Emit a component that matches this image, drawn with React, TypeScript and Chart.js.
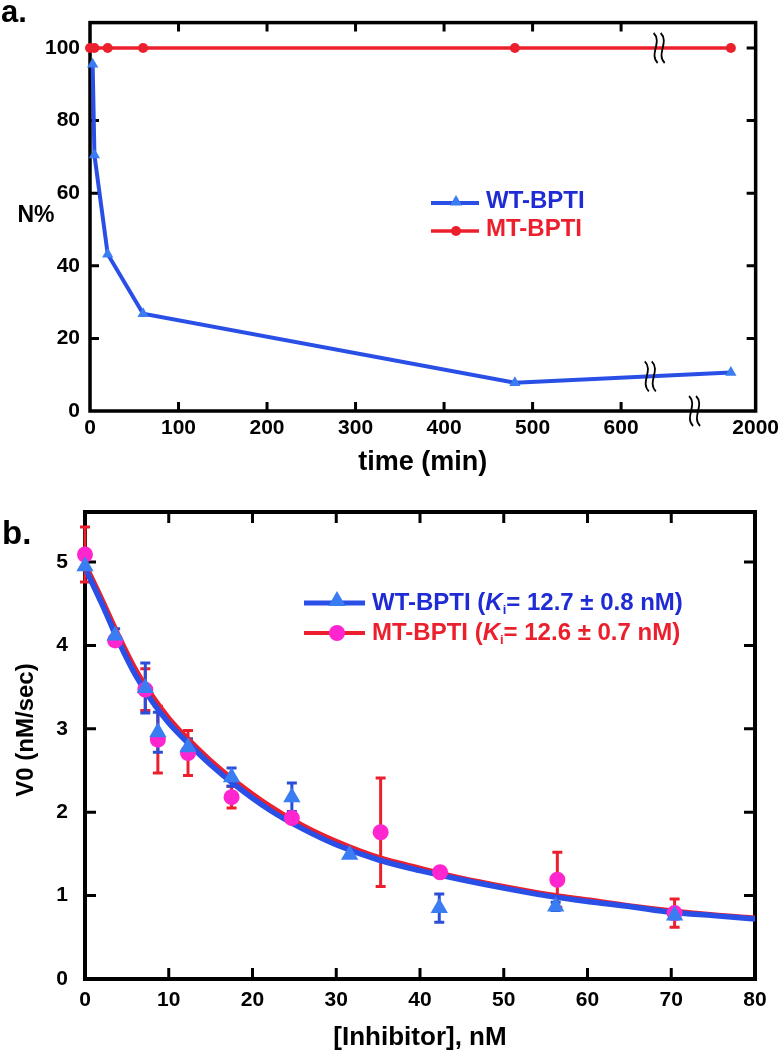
import React, { useEffect, useRef } from "react";
import { Chart, registerables } from "chart.js";

Chart.register(...registerables);

const FONT = "'Liberation Sans', Arial, Helvetica, sans-serif";

// ---------- Panel a data ----------
const timeWT = [3, 5, 20, 60, 480, 724];
const nWT = [95.5, 70.5, 43.2, 26.8, 7.8, 10.6];
const timeMT = [0, 5, 20, 60, 480, 724];
const nMT = [100, 100, 100, 100, 100, 100];
const aXTicks = [0, 100, 200, 300, 400, 500, 600];
const aXEnd = 752; // broken axis end
const aXEndLabel = "2000";
const aYTicks = [0, 20, 40, 60, 80, 100];
const aYMax = 107;
const aBreaks = [
  { x: 643, y: 100 },
  { x: 633, y: 9.56 },
  { x: 683, y: 0 },
];

// ---------- Panel b data ----------
const inhibWT = [0, 3.6, 7.2, 8.7, 12.3, 17.5, 24.7, 31.6, 42.3, 56.2, 70.4];
const v0WT = [4.95, 4.12, 3.49, 2.96, 2.78, 2.42, 2.18, 1.49, 0.85, 0.87, 0.76];
const errWT = [0, 0.08, 0.3, 0.24, 0.1, 0.11, 0.17, 0, 0.17, 0.05, 0.04];
const inhibMT = [0, 3.6, 7.2, 8.7, 12.3, 17.5, 24.7, 35.3, 42.4, 56.4, 70.4];
const v0MT = [5.09, 4.06, 3.47, 2.87, 2.71, 2.18, 1.93, 1.76, 1.28, 1.19, 0.79];
const errMT = [0.33, 0.06, 0.25, 0.4, 0.27, 0.13, 0.05, 0.65, 0, 0.33, 0.17];
const fitX = [0, 2, 4, 6, 8, 10, 12, 15, 18, 22, 26, 30, 35, 40, 45, 50, 55, 60, 65, 70, 75, 80];
const fitWT = [4.93, 4.5, 4.05, 3.65, 3.33, 3.07, 2.86, 2.57, 2.32, 2.03, 1.8, 1.61, 1.43, 1.3, 1.19, 1.09, 1.0, 0.93, 0.87, 0.8, 0.76, 0.72];
const fitMT = [4.98, 4.56, 4.12, 3.72, 3.4, 3.13, 2.91, 2.62, 2.37, 2.08, 1.84, 1.65, 1.46, 1.33, 1.21, 1.11, 1.02, 0.95, 0.88, 0.82, 0.77, 0.73];
const bXTicks = [0, 10, 20, 30, 40, 50, 60, 70, 80];
const bYTicks = [0, 1, 2, 3, 4, 5];
const bYMax = 5.6;

// ---------- colours ----------
const BLUE_LINE = "#2a4fe6";
const BLUE_MARK = "#3a7cf2";
const BLUE_TEXT = "#1f2bd4";
const BLUE_ERR = "#2b4ed8";
const RED = "#ec1f2d";
const MAGENTA = "#ff26cf";

const xy = (xs: number[], ys: number[]) => xs.map((x, i) => ({ x, y: ys[i] }));

function frameTicks(cfg: { xMarks: number[]; yMarks: number[]; len: number; frameWidth: number; tickWidth: number }) {
  return {
    id: "frameTicks",
    beforeDatasetsDraw(chart: any) {
      const { ctx, chartArea: a, scales } = chart;
      const xs = scales.x;
      const ys = scales.y;
      ctx.save();
      ctx.strokeStyle = "#000";
      ctx.lineWidth = cfg.tickWidth;
      ctx.beginPath();
      for (const v of cfg.xMarks) {
        const p = xs.getPixelForValue(v);
        ctx.moveTo(p, a.bottom);
        ctx.lineTo(p, a.bottom - cfg.len);
        ctx.moveTo(p, a.top);
        ctx.lineTo(p, a.top + cfg.len);
      }
      for (const v of cfg.yMarks) {
        const p = ys.getPixelForValue(v);
        ctx.moveTo(a.left, p);
        ctx.lineTo(a.left + cfg.len, p);
        ctx.moveTo(a.right, p);
        ctx.lineTo(a.right - cfg.len, p);
      }
      ctx.stroke();
      ctx.lineWidth = cfg.frameWidth;
      ctx.lineJoin = "miter";
      ctx.strokeRect(a.left, a.top, a.right - a.left, a.bottom - a.top);
      ctx.restore();
    },
  };
}

function drawTriangle(ctx: CanvasRenderingContext2D, x: number, y: number, r: number, color: string) {
  ctx.beginPath();
  ctx.moveTo(x, y - r);
  ctx.lineTo(x + 0.866 * r, y + 0.5 * r);
  ctx.lineTo(x - 0.866 * r, y + 0.5 * r);
  ctx.closePath();
  ctx.fillStyle = color;
  ctx.fill();
}
function drawCircle(ctx: CanvasRenderingContext2D, x: number, y: number, r: number, color: string) {
  ctx.beginPath();
  ctx.arc(x, y, r, 0, Math.PI * 2);
  ctx.fillStyle = color;
  ctx.fill();
}

function drawBreak(ctx: CanvasRenderingContext2D, cx: number, cy: number) {
  ctx.save();
  ctx.strokeStyle = "#000";
  ctx.lineWidth = 1.8;
  for (const dx of [-3.5, 3.5]) {
    const x = cx + dx;
    ctx.beginPath();
    ctx.moveTo(x - 2, cy - 15);
    ctx.bezierCurveTo(x + 7, cy - 6, x - 7, cy + 6, x + 2, cy + 15);
    ctx.stroke();
  }
  ctx.restore();
}

function boldFont(size: number) {
  return `bold ${size}px ${FONT}`;
}

const panelAPlugin = {
  id: "panelA",
  afterDraw(chart: any) {
    const { ctx, scales } = chart;
    ctx.save();
    // panel letter
    ctx.fillStyle = "#000";
    ctx.font = boldFont(31);
    ctx.textBaseline = "alphabetic";
    ctx.textAlign = "left";
    ctx.fillText("a.", 1, 22);
    // y title
    ctx.font = boldFont(23);
    ctx.textAlign = "center";
    ctx.textBaseline = "middle";
    ctx.fillText("N%", 36, 216);
    // breaks
    for (const b of aBreaks) {
      drawBreak(ctx, scales.x.getPixelForValue(b.x), scales.y.getPixelForValue(b.y));
    }
    // legend
    const items = [
      { label: "WT-BPTI", line: BLUE_LINE, lw: 4, mark: "tri", mc: BLUE_MARK, tc: BLUE_TEXT, y: 203 },
      { label: "MT-BPTI", line: RED, lw: 3.5, mark: "cir", mc: RED, tc: RED, y: 231 },
    ];
    for (const it of items) {
      ctx.strokeStyle = it.line;
      ctx.lineWidth = it.lw;
      ctx.beginPath();
      ctx.moveTo(431, it.y);
      ctx.lineTo(479, it.y);
      ctx.stroke();
      if (it.mark === "tri") drawTriangle(ctx, 456, it.y - 1, 7, it.mc);
      else drawCircle(ctx, 456, it.y, 5, it.mc);
      ctx.fillStyle = it.tc;
      ctx.font = boldFont(24);
      ctx.textAlign = "left";
      ctx.textBaseline = "alphabetic";
      ctx.fillText(it.label, 486, it.y + 5);
    }
    ctx.restore();
  },
};

const errorBarPlugin = {
  id: "errBars",
  beforeDatasetsDraw(chart: any) {
    const { ctx, scales } = chart;
    const sets = [
      { xs: inhibMT, ys: v0MT, es: errMT, color: RED },
      { xs: inhibWT, ys: v0WT, es: errWT, color: BLUE_ERR },
    ];
    ctx.save();
    ctx.lineWidth = 3;
    for (const s of sets) {
      ctx.strokeStyle = s.color;
      s.xs.forEach((xv, i) => {
        const e = s.es[i];
        if (!e) return;
        const px = scales.x.getPixelForValue(xv);
        const top = scales.y.getPixelForValue(s.ys[i] + e);
        const bot = scales.y.getPixelForValue(s.ys[i] - e);
        ctx.beginPath();
        ctx.moveTo(px, top);
        ctx.lineTo(px, bot);
        ctx.moveTo(px - 5, top);
        ctx.lineTo(px + 5, top);
        ctx.moveTo(px - 5, bot);
        ctx.lineTo(px + 5, bot);
        ctx.stroke();
      });
    }
    ctx.restore();
  },
};

function drawKi(ctx: CanvasRenderingContext2D, x: number, y: number, pre: string, post: string, color: string, size: number) {
  ctx.fillStyle = color;
  ctx.textAlign = "left";
  ctx.textBaseline = "alphabetic";
  ctx.font = boldFont(size);
  ctx.fillText(pre, x, y);
  x += ctx.measureText(pre).width;
  ctx.font = `italic bold ${size}px ${FONT}`;
  ctx.fillText("K", x, y);
  x += ctx.measureText("K").width;
  ctx.font = boldFont(Math.round(size * 0.55));
  ctx.fillText("i", x, y + size * 0.18);
  x += ctx.measureText("i").width;
  ctx.font = boldFont(size);
  ctx.fillText(post, x, y);
}

const panelBPlugin = {
  id: "panelB",
  afterDraw(chart: any) {
    const { ctx } = chart;
    ctx.save();
    ctx.fillStyle = "#000";
    ctx.font = boldFont(33);
    ctx.textAlign = "left";
    ctx.textBaseline = "alphabetic";
    ctx.fillText("b.", 2, 64);
    // y title
    ctx.save();
    ctx.translate(26, 250);
    ctx.rotate(-Math.PI / 2);
    ctx.font = boldFont(24);
    ctx.textAlign = "center";
    ctx.textBaseline = "middle";
    ctx.fillText("V0 (nM/sec)", 0, 0);
    ctx.restore();
    // legend
    const items = [
      { pre: "WT-BPTI (", post: "= 12.7 ± 0.8 nM)", line: BLUE_LINE, lw: 5, mark: "tri", mc: BLUE_MARK, tc: BLUE_TEXT, y: 123 },
      { pre: "MT-BPTI (", post: "= 12.6 ± 0.7 nM)", line: RED, lw: 4, mark: "cir", mc: MAGENTA, tc: RED, y: 153 },
    ];
    for (const it of items) {
      ctx.strokeStyle = it.line;
      ctx.lineWidth = it.lw;
      ctx.beginPath();
      ctx.moveTo(304, it.y);
      ctx.lineTo(365, it.y);
      ctx.stroke();
      if (it.mark === "tri") drawTriangle(ctx, 337, it.y - 2, 10, it.mc);
      else drawCircle(ctx, 337, it.y, 8, it.mc);
      drawKi(ctx, 372, it.y + 7, it.pre, it.post, it.tc, 24);
    }
    ctx.restore();
  },
};

function tickFont(size: number) {
  return { family: FONT, size, weight: "bold" as const };
}

export default function App() {
  const refA = useRef<HTMLCanvasElement | null>(null);
  const refB = useRef<HTMLCanvasElement | null>(null);

  useEffect(() => {
    const chartA = new Chart(refA.current as HTMLCanvasElement, {
      type: "line",
      data: {
        datasets: [
          {
            label: "MT-BPTI",
            data: xy(timeMT, nMT),
            borderColor: RED,
            backgroundColor: RED,
            borderWidth: 3.5,
            pointStyle: "circle",
            pointRadius: 5,
            pointBorderWidth: 0,
            pointBackgroundColor: RED,
            tension: 0,
            clip: false,
          },
          {
            label: "WT-BPTI",
            data: xy(timeWT, nWT),
            borderColor: BLUE_LINE,
            backgroundColor: BLUE_MARK,
            borderWidth: 4,
            pointStyle: "triangle",
            pointRadius: 6.5,
            pointBorderWidth: 0,
            pointBackgroundColor: BLUE_MARK,
            tension: 0,
            clip: false,
          },
        ],
      },
      options: {
        animation: false,
        responsive: false,
        devicePixelRatio: 1,
        layout: { padding: { top: 12, right: 27, left: 0, bottom: 0 } },
        plugins: { legend: { display: false }, tooltip: { enabled: false } },
        scales: {
          x: {
            type: "linear",
            min: 0,
            max: aXEnd,
            afterBuildTicks: (s: any) => {
              s.ticks = [...aXTicks, aXEnd].map((v) => ({ value: v }));
            },
            afterFit: (s: any) => {
              s.height = 69;
            },
            ticks: {
              callback: (v: any) => (v === aXEnd ? aXEndLabel : String(v)),
              font: tickFont(21),
              color: "#000",
              padding: 5,
              maxRotation: 0,
              autoSkip: false,
            },
            grid: { display: false, drawTicks: false },
            border: { display: false },
            title: {
              display: true,
              text: "time (min)",
              color: "#000",
              font: tickFont(27),
              padding: { top: 0, bottom: 1 },
            },
          },
          y: {
            type: "linear",
            min: 0,
            max: aYMax,
            afterBuildTicks: (s: any) => {
              s.ticks = aYTicks.map((v) => ({ value: v }));
            },
            afterFit: (s: any) => {
              s.width = 90;
            },
            ticks: { font: tickFont(21), color: "#000", padding: 10 },
            grid: { display: false, drawTicks: false },
            border: { display: false },
          },
        },
      },
      plugins: [
        frameTicks({ xMarks: aXTicks.slice(1), yMarks: aYTicks.slice(1), len: 9, frameWidth: 3.5, tickWidth: 3 }),
        panelAPlugin,
      ],
    } as any);

    const chartB = new Chart(refB.current as HTMLCanvasElement, {
      type: "line",
      data: {
        datasets: [
          {
            label: "WT-BPTI",
            data: xy(inhibWT, v0WT),
            showLine: false,
            pointStyle: "triangle",
            pointRadius: 10,
            pointBorderWidth: 0,
            pointBackgroundColor: BLUE_MARK,
            borderColor: BLUE_MARK,
            clip: false,
          },
          {
            label: "MT-BPTI",
            data: xy(inhibMT, v0MT),
            showLine: false,
            pointStyle: "circle",
            pointRadius: 8,
            pointBorderWidth: 0,
            pointBackgroundColor: MAGENTA,
            borderColor: MAGENTA,
            clip: false,
          },
          {
            label: "WT fit",
            data: xy(fitX, fitWT),
            borderColor: BLUE_LINE,
            borderWidth: 5.5,
            pointRadius: 0,
            cubicInterpolationMode: "monotone",
          },
          {
            label: "MT fit",
            data: xy(fitX, fitMT),
            borderColor: RED,
            borderWidth: 5,
            pointRadius: 0,
            cubicInterpolationMode: "monotone",
          },
        ],
      },
      options: {
        animation: false,
        responsive: false,
        devicePixelRatio: 1,
        layout: { padding: { top: 32, right: 29, left: 0, bottom: 0 } },
        plugins: { legend: { display: false }, tooltip: { enabled: false } },
        scales: {
          x: {
            type: "linear",
            min: 0,
            max: 80,
            afterBuildTicks: (s: any) => {
              s.ticks = bXTicks.map((v) => ({ value: v }));
            },
            afterFit: (s: any) => {
              s.height = 82;
            },
            ticks: { font: tickFont(21), color: "#000", padding: 9, maxRotation: 0, autoSkip: false },
            grid: { display: false, drawTicks: false },
            border: { display: false },
            title: {
              display: true,
              text: "[Inhibitor], nM",
              color: "#000",
              font: tickFont(26),
              padding: { top: 0, bottom: 8 },
            },
          },
          y: {
            type: "linear",
            min: 0,
            max: bYMax,
            afterBuildTicks: (s: any) => {
              s.ticks = bYTicks.map((v) => ({ value: v }));
            },
            afterFit: (s: any) => {
              s.width = 85;
            },
            ticks: { font: tickFont(21), color: "#000", padding: 17 },
            grid: { display: false, drawTicks: false },
            border: { display: false },
          },
        },
      },
      plugins: [
        frameTicks({ xMarks: bXTicks.slice(1, -1), yMarks: bYTicks.slice(1), len: 11, frameWidth: 4, tickWidth: 3 }),
        errorBarPlugin,
        panelBPlugin,
      ],
    } as any);

    return () => {
      chartA.destroy();
      chartB.destroy();
    };
  }, []);

  return (
    <div style={{ position: "absolute", left: 0, top: 0, width: 784, height: 1061, background: "#fff" }}>
      <canvas ref={refA} width={784} height={480} style={{ position: "absolute", left: 0, top: 0 }} />
      <canvas ref={refB} width={784} height={581} style={{ position: "absolute", left: 0, top: 480 }} />
    </div>
  );
}
